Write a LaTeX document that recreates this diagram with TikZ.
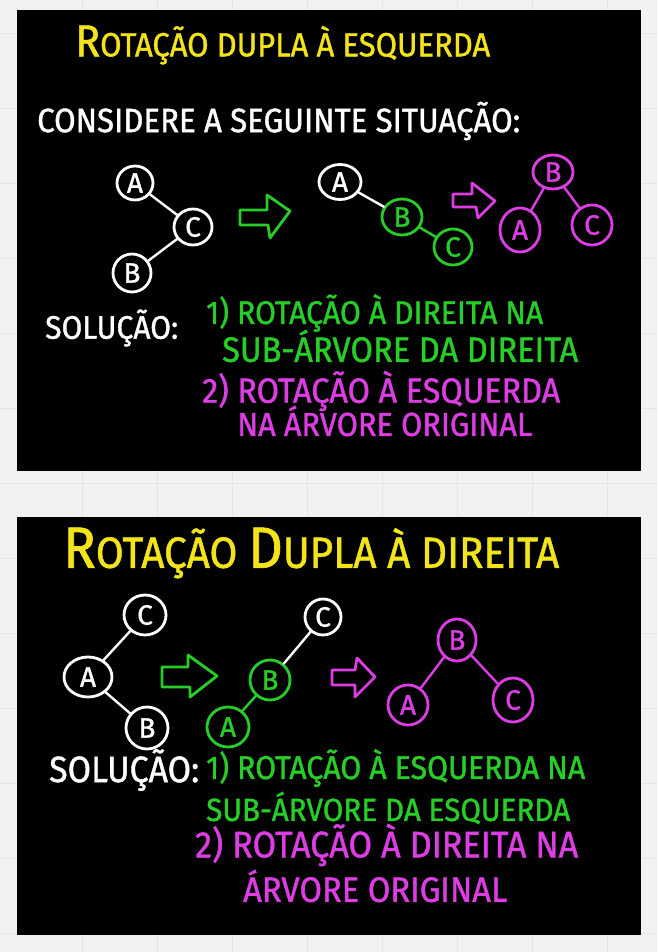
\documentclass[tikz,border=0pt]{standalone}
\usepackage{fontspec}
\setmainfont{Fira Sans}
\newfontfamily\hand{Fira Sans}[FakeBold=1.2]
\usetikzlibrary{shapes.geometric}
\definecolor{bgc}{HTML}{F2F2F2}
\definecolor{gridc}{HTML}{E5E5E5}
\definecolor{yel}{HTML}{F3E41A}
\definecolor{grn}{HTML}{27CE27}
\definecolor{mag}{HTML}{DD3EE3}
\newcommand{\fitw}[2]{\scalebox{1}[1.08]{\resizebox{#1}{!}{#2}}}
\begin{document}
\begin{tikzpicture}[x=1pt,y=-1pt,
  tn/.style={ellipse,draw,line width=2.8pt,minimum width=38pt,minimum height=36pt,inner sep=0pt,font=\hand\fontsize{28}{28}\selectfont},
  wn/.style={tn,draw=white,text=white},
  gn/.style={tn,draw=grn,text=grn},
  mn/.style={tn,draw=mag,text=mag},
  lnk/.style={line width=2.4pt,line cap=round},
  blk/.style={line width=2.8pt,line join=round},
  txt/.style={anchor=west,inner sep=0pt,font=\hand\fontsize{24}{24}\selectfont}]
\useasboundingbox (0,0) rectangle (657,952);
\fill[bgc] (0,0) rectangle (657,952);
\foreach \x in {82,157,...,607} \draw[gridc,line width=0.8pt] (\x,0) -- (\x,952);
\foreach \y in {33,108,...,933} \draw[gridc,line width=0.8pt] (0,\y) -- (657,\y);
% panels
\fill[black] (17,10) rectangle (641,471);
\fill[black] (17,517) rectangle (641,935);

% ---------- panel 1 ----------
\node[txt,text=yel] (t1) at (75,45) {\fitw{415pt}{{\fontsize{32}{32}\selectfont R}OTAÇÃO DUPLA À ESQUERDA}};
\node[txt,text=white] (t2) at (37,121) {\fitw{483pt}{CONSIDERE A SEGUINTE SITUAÇÃO:}};

\node[wn,minimum width=36pt,minimum height=34pt] (A1) at (135,183) {A};
\node[wn] (C1) at (193,227) {C};
\node[wn,minimum width=38pt,minimum height=38pt] (B1) at (132,273) {B};
\draw[lnk,white] (A1) -- (C1);
\draw[lnk,white] (C1) -- (B1);

\draw[blk,grn] (240,210) -- (267,210) -- (267,195) -- (290,211) -- (270,238) -- (268,225) -- (240,225) -- cycle;

\node[wn,minimum width=42pt,minimum height=35pt] (A2) at (340,182) {A};
\node[gn,minimum width=40pt,minimum height=36pt] (B2) at (402,217) {B};
\node[gn] (C2) at (453,247) {C};
\draw[lnk,white] (A2) -- (B2);
\draw[lnk,grn] (B2) -- (C2);

\draw[blk,mag] (453,194) -- (472,194) -- (472,183) -- (495,201) -- (478,218) -- (476,207) -- (453,207) -- cycle;

\node[mn,minimum width=40pt,minimum height=34pt] (B3) at (553,172) {B};
\node[mn,minimum width=40pt,minimum height=44pt] (A3) at (520,230) {A};
\node[mn,minimum width=40pt,minimum height=40pt] (C3) at (592,225) {C};
\draw[lnk,mag] (B3) -- (A3);
\draw[lnk,mag] (B3) -- (C3);

\node[txt,text=white] (s1) at (45,328) {\fitw{133pt}{SOLUÇÃO:}};
\node[txt,text=grn] (g1) at (206,313) {\fitw{337pt}{1) ROTAÇÃO À DIREITA NA}};
\node[txt,text=grn] (g2) at (222,346) {\fitw{356pt}{SUB-ÁRVORE DA DIREITA}};
\node[txt,text=mag] (m1) at (202,391) {\fitw{358pt}{2) ROTAÇÃO À ESQUERDA}};
\node[txt,text=mag] (m2) at (237,421) {\fitw{295pt}{NA ÁRVORE ORIGINAL}};

% ---------- panel 2 ----------
\node[txt,text=yel] (t3) at (63,553) {\fitw{496pt}{{\fontsize{32}{32}\selectfont R}OTAÇÃO {\fontsize{32}{32}\selectfont D}UPLA À DIREITA}};

\node[wn,minimum width=42pt,minimum height=40pt] (C4) at (145,615) {C};
\node[wn,minimum width=48pt,minimum height=40pt] (A4) at (88,677) {A};
\node[wn,minimum width=42pt,minimum height=42pt] (B4) at (147,728) {B};
\draw[lnk,white] (C4) -- (A4);
\draw[lnk,white] (A4) -- (B4);

\draw[blk,grn] (162,667) -- (188,667) -- (188,655) -- (217,676) -- (190,697) -- (190,687) -- (162,687) -- cycle;

\node[wn,minimum width=36pt,minimum height=36pt] (C5) at (323,617) {C};
\node[gn,minimum width=40pt,minimum height=40pt] (B5) at (270,680) {B};
\node[gn,minimum width=42pt,minimum height=40pt] (A5) at (228,727) {A};
\draw[lnk,white] (C5) -- (B5);
\draw[lnk,grn] (B5) -- (A5);

\draw[blk,mag] (332,670) -- (355,670) -- (357,658) -- (375,677) -- (355,697) -- (355,685) -- (332,685) -- cycle;

\node[mn,minimum width=38pt,minimum height=42pt] (B6) at (457,640) {B};
\node[mn,minimum width=40pt,minimum height=40pt] (A6) at (408,705) {A};
\node[mn,minimum width=40pt,minimum height=44pt] (C6) at (513,700) {C};
\draw[lnk,mag] (B6) -- (A6);
\draw[lnk,mag] (B6) -- (C6);

\node[txt,text=white] (s2) at (49,770) {\fitw{150pt}{SOLUÇÃO:}};
\node[txt,text=grn] (g3) at (206,768) {\fitw{379pt}{1) ROTAÇÃO À ESQUERDA NA}};
\node[txt,text=grn] (g4) at (206,808) {\fitw{364pt}{SUB-ÁRVORE DA ESQUERDA}};
\node[txt,text=mag] (m3) at (195,845) {\fitw{383pt}{2) ROTAÇÃO À DIREITA NA}};
\node[txt,text=mag] (m4) at (243,886) {\fitw{264pt}{ÁRVORE ORIGINAL}};
\end{tikzpicture}
\end{document}
